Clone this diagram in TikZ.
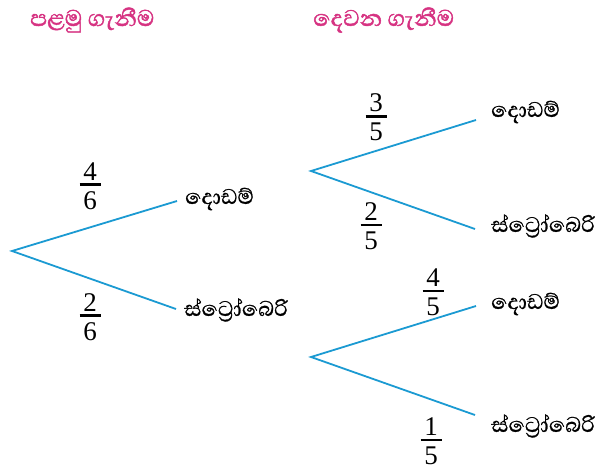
\documentclass[tikz,border=0pt]{standalone}
\usepackage{fontspec}
\setmainfont{Liberation Serif}
\newfontfamily\sinhfont[Script=Sinhala,FakeBold=0.8]{Abhaya Libre}
\newfontfamily\sinhbold[Script=Sinhala,FakeBold=1.5]{Abhaya Libre}
\definecolor{branch}{RGB}{27,154,210}
\definecolor{head}{RGB}{214,51,130}
\newcommand\pfrac[2]{\vbox{\offinterlineskip
  \hbox to 21pt{\hss#1\hss}\kern3pt
  \hrule height 2.8pt\kern5pt
  \hbox to 21pt{\hss#2\hss}}}
\tikzset{
  branchline/.style={draw=branch, line width=1.8pt},
  fr/.style={inner sep=0pt, font=\fontsize{27}{30}\selectfont},
  lbl/.style={inner sep=0pt, anchor=west, font=\sinhfont\fontsize{27}{30}\selectfont},
  hd/.style={inner sep=0pt, anchor=west, text=head, font=\sinhbold\fontsize{29}{32}\selectfont},
}
\begin{document}
\begin{tikzpicture}[x=1pt,y=-1pt]
\useasboundingbox (0,0) rectangle (601,469);
% headers
\node[hd] (h1) at (30,20) {පළමු ගැනීම};
\node[hd] (h2) at (313,20) {දෙවන ගැනීම};
% first stage
\coordinate (r0) at (12,251);
\coordinate (a1) at (177,201);
\coordinate (b1) at (176,309);
\draw[branchline] (a1) -- (r0) -- (b1);
\node[lbl] (la1) at (185,199) {දොඩම්};
\node[lbl] (lb1) at (184,310) {ස්ට්^^^^200dරෝබෙරි};
\node[fr] (f46) at (90,186) {\pfrac{4}{6}};
\node[fr] (f26) at (90,317) {\pfrac{2}{6}};
% second stage upper
\coordinate (r1) at (311,171);
\coordinate (a2) at (476,120);
\coordinate (b2) at (475,229);
\draw[branchline] (a2) -- (r1) -- (b2);
\node[lbl] (la2) at (491,112) {දොඩම්};
\node[lbl] (lb2) at (491,226) {ස්ට්^^^^200dරෝබෙරි};
\node[fr] (f35) at (376,117) {\pfrac{3}{5}};
\node[fr] (f25) at (371,226) {\pfrac{2}{5}};
% second stage lower
\coordinate (r2) at (311,357);
\coordinate (a3) at (476,306);
\coordinate (b3) at (475,415);
\draw[branchline] (a3) -- (r2) -- (b3);
\node[lbl] (la3) at (491,304) {දොඩම්};
\node[lbl] (lb3) at (491,426) {ස්ට්^^^^200dරෝබෙරි};
\node[fr] (f45) at (433,292) {\pfrac{4}{5}};
\node[fr] (f15) at (431,441) {\pfrac{1}{5}};
\end{tikzpicture}
\end{document}
